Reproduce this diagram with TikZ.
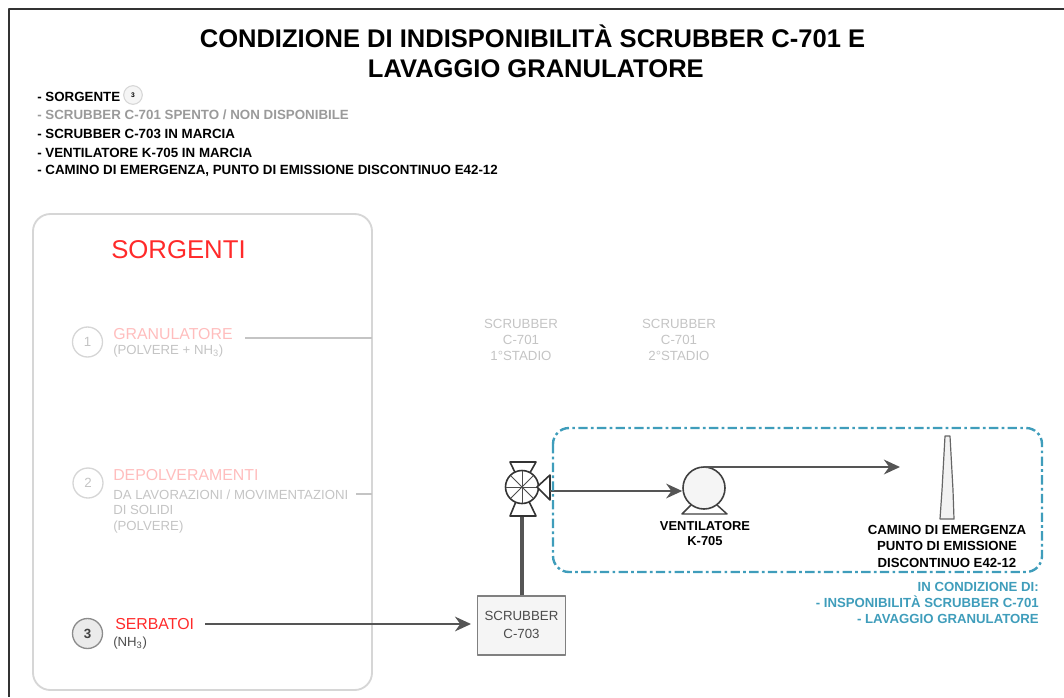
\documentclass[tikz,border=0pt]{standalone}
\usepackage{fontspec}
\setmainfont{Liberation Sans}
\definecolor{rosso}{HTML}{FF2A2A}
\definecolor{rossochiaro}{HTML}{FFBDBD}
\definecolor{grigiochiaro}{HTML}{C4C4C4}
\definecolor{grigiomedio}{HTML}{9A9A9A}
\definecolor{bordo}{HTML}{D6D6D6}
\definecolor{linea}{HTML}{555555}
\definecolor{azzurro}{HTML}{3F9DBB}
\tikzset{
	voce/.style={inner sep=0pt,anchor=west,font=\fontsize{10}{12}\selectfont\bfseries},
	nota/.style={inner sep=0pt,align=center,font=\fontsize{9.95}{12.1}\selectfont},
	sigla/.style={circle,draw=bordo,line width=1pt,minimum size=22.5pt,inner sep=0pt,text=grigiochiaro,font=\fontsize{10}{12}\selectfont},
	sorg/.style={inner sep=0pt,anchor=west,font=\fontsize{11.9}{14}\selectfont},
	sub/.style={inner sep=0pt,anchor=west,align=left,font=\fontsize{9.9}{11.7}\selectfont,text=grigiochiaro},
	tubo/.style={line width=1.5pt,draw=linea,-{Stealth[length=12pt,width=11pt]}},
}
\usetikzlibrary{arrows.meta}
\begin{document}
\begin{tikzpicture}[line cap=butt,line join=round,x=0.75pt,y=-0.75pt]
	\useasboundingbox (0,0) rectangle (1064,697);
	% cornice
	\coordinate (fa) at (1064,9);
	\coordinate (fb) at (9,9);
	\coordinate (fc) at (9,697);
	\draw [line width=0.8pt,draw=black!80] (fa)-- (fb)-- (fc);
	% titolo
	\node (titolo) [inner sep=0pt,align=center,font=\fontsize{19.15}{22.6}\selectfont\bfseries] at (532.5,51) {CONDIZIONE DI INDISPONIBILITÀ SCRUBBER C-701 E\\\hspace*{5pt}LAVAGGIO GRANULATORE};
	\node (v1) [voce] at (37,97) {- SORGENTE};
	\node (v1c) [circle,draw=bordo,fill=black!4,line width=0.8pt,minimum size=14pt,inner sep=0pt,font=\fontsize{5}{6}\selectfont\bfseries] at (133,95) {3};
	\node (v2) [voce,text=grigiomedio] at (37,115) {- SCRUBBER C-701 SPENTO / NON DISPONIBILE};
	\node (v3) [voce] at (37,134) {- SCRUBBER C-703 IN MARCIA};
	\node (v4) [voce] at (37,153) {- VENTILATORE K-705 IN MARCIA};
	\node (v5) [voce] at (37,171) {- CAMINO DI EMERGENZA, PUNTO DI EMISSIONE DISCONTINUO E42-12};
	% sorgenti
	\draw [line width=1.4pt,draw=bordo,rounded corners=13pt] (33,214) rectangle (372,690);
	\node (sorgenti) [inner sep=0pt,anchor=west,text=rosso,font=\fontsize{19.3}{22}\selectfont] at (111,250) {SORGENTI};
	\node (s1) [sigla] at (87.5,342) {1};
	\node (s1t) [sorg,text=rossochiaro] at (113,334) {GRANULATORE};
	\node (s1s) [sub] at (113,351) {(POLVERE + NH\textsubscript{3})};
	\node (s2) [sigla] at (88,483) {2};
	\node (s2t) [sorg,text=rossochiaro] at (113,475) {DEPOLVERAMENTI};
	\node (s2s) [sub,anchor=north west] at (113,489.5) {DA LAVORAZIONI / MOVIMENTAZIONI\\DI SOLIDI\\(POLVERE)};
	\node (s3) [sigla,draw=black!45,fill=black!8,text=black!75,font=\fontsize{10}{12}\selectfont\bfseries] at (87.5,633.5) {3};
	\node (s3t) [sorg,text=rosso] at (115,624) {SERBATOI};
	\node (s3s) [sub,text=black!70] at (113,643) {(NH\textsubscript{3})};
	\coordinate (g1) at (245,338);
	\coordinate (g2) at (372,338);
	\coordinate (d1) at (356,494);
	\coordinate (d2) at (372,494);
	\draw [line width=1pt,draw=grigiochiaro] (g1)-- (g2);
	\draw [line width=1pt,draw=grigiochiaro] (d1)-- (d2);
	% scrubber spenti
	\node (c1) [nota,text=grigiochiaro] at (521,340) {SCRUBBER\\C-701\\1°STADIO};
	\node (c2) [nota,text=grigiochiaro] at (679,340) {SCRUBBER\\C-701\\2°STADIO};
	% scrubber in marcia
	\node (c3) [draw=black!50,fill=black!4,line width=1.3pt,minimum width=66pt,minimum height=44pt,inner sep=0pt,align=center,text=black!70,font=\fontsize{9.95}{13}\selectfont,yshift=0pt] at (521.5,625.5) {\raisebox{1pt}{SCRUBBER}\\\raisebox{1pt}{C-703}};
	\coordinate (a3) at (205,624);
	\coordinate (c3w) at (471,624);
	\draw [tubo] (a3)-- (c3w);
	% valvola
	\coordinate (val) at (522,487);
	\coordinate (valb) at (522,516);
	\draw [line width=2.8pt,draw=linea] (c3.north -| valb)-- (valb);
	\draw [line width=1.2pt,draw=black!80,fill=white] (val)-- (510,462)-- (536,462)-- cycle;
	\draw [line width=1.2pt,draw=black!80,fill=white] (val)-- (510,516)-- (536,516)-- cycle;
	\draw [line width=1.2pt,draw=black!80,fill=white] (val) circle (16.5);
	\foreach \ang in {0,45,...,315}
		\draw [line width=0.7pt,draw=black!70] (val)-- ++(\ang:16);
	\draw [line width=1.2pt,draw=black!80,fill=white] (537,487)-- (550,475)-- (550,500)-- cycle;
	% ventilatore
	\node (ven) [circle,draw=black!75,fill=black!4,line width=1.2pt,minimum size=31.5pt,inner sep=0pt] at (704,488) {};
	\coordinate (vb1) at (691,505);
	\coordinate (vb2) at (682,514);
	\coordinate (vb3) at (727,514);
	\coordinate (vb4) at (717,505);
	\draw [line width=1.1pt,draw=black!75] (vb1)-- (vb2)-- (vb3)-- (vb4);
	\coordinate (vin) at (550,491);
	\coordinate (vout) at (704,467);
	\coordinate (cfr) at (900,467);
	\draw [tubo] (vin)-- (ven.west |- vin);
	\draw [tubo,line width=2.2pt] (vout)-- (cfr);
	\node (vent) [inner sep=0pt,align=center,font=\fontsize{9.7}{11.8}\selectfont\bfseries] at (705,533.5) {VENTILATORE\\K-705};
	% camino
	\draw [line width=0.9pt,draw=black!60,fill=black!5] (940,519)-- (942,490)-- (945,436)-- (950,436)-- (953,490)-- (954,519)-- cycle;
	\node (cam) [inner sep=0pt,align=center,font=\fontsize{9.9}{12.4}\selectfont\bfseries] at (947,546) {CAMINO DI EMERGENZA\\PUNTO DI EMISSIONE\\DISCONTINUO E42-12};
	% zona
	\draw [line width=1.8pt,draw=azzurro,rounded corners=12pt,dash pattern=on 7pt off 2.5pt on 2pt off 2.5pt] (553,428) rectangle (1042,572);
	\node (cond) [inner sep=0pt,anchor=north east,align=right,text=azzurro,font=\fontsize{9.9}{12}\selectfont\bfseries] at (1039,582) {IN CONDIZIONE DI:\\- INSPONIBILITÀ SCRUBBER C-701\\- LAVAGGIO GRANULATORE};
\end{tikzpicture}
\end{document}
